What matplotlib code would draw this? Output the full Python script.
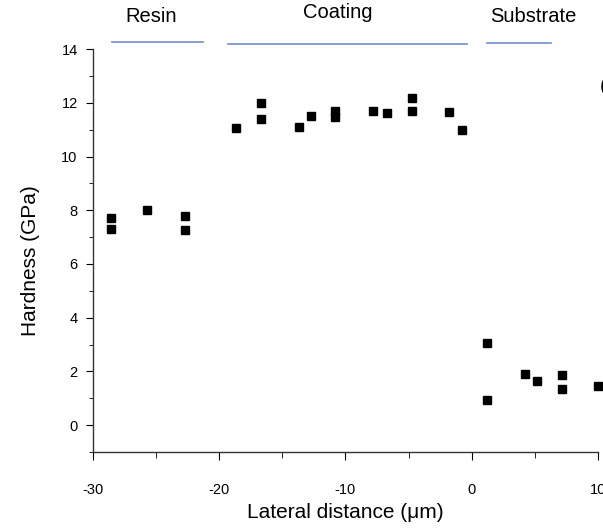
import matplotlib.pyplot as plt
from matplotlib.ticker import MultipleLocator

plt.rcParams['font.family'] = ['Liberation Sans', 'DejaVu Sans']
plt.rcParams['axes.unicode_minus'] = False

resin_x = [-28.6, -28.6, -25.7, -22.7, -22.7]
resin_h = [7.73, 7.29, 8.02, 7.77, 7.25]

coating_x = [-18.7, -16.7, -16.7, -13.7, -12.7, -10.8, -10.8,
             -7.8, -6.75, -4.76, -4.76, -1.8, -0.8]
coating_h = [11.08, 12.0, 11.41, 11.11, 11.5, 11.68, 11.46,
             11.7, 11.62, 12.18, 11.71, 11.64, 11.0]

substrate_x = [1.17, 1.17, 4.18, 5.2, 7.17, 7.17, 10.0]
substrate_h = [3.07, 0.95, 1.92, 1.63, 1.85, 1.36, 1.45]

regions = ['Resin', 'Coating', 'Substrate']

fig = plt.figure(figsize=(6.03, 5.28), dpi=100)
ax = fig.add_axes([0.1542, 0.144, 0.8375, 0.763])

for xs, hs in [(resin_x, resin_h), (coating_x, coating_h), (substrate_x, substrate_h)]:
    ax.plot(xs, hs, 's', color='black', markersize=6, clip_on=False)

ax.set_xlim(-30, 10)
ax.set_ylim(-1, 14)
ax.spines['top'].set_visible(False)
ax.spines['right'].set_visible(False)
for s in ['left', 'bottom']:
    ax.spines[s].set_color('#333333')
    ax.spines[s].set_linewidth(1.0)

ax.xaxis.set_major_locator(MultipleLocator(10))
ax.xaxis.set_minor_locator(MultipleLocator(5))
ax.yaxis.set_major_locator(MultipleLocator(2))
ax.yaxis.set_minor_locator(MultipleLocator(1))
ax.set_yticks([0, 2, 4, 6, 8, 10, 12, 14])
ax.tick_params(axis='x', which='major', length=6, pad=16, labelsize=10.5)
ax.tick_params(axis='x', which='minor', length=4)
ax.tick_params(axis='y', which='major', length=5, pad=6, labelsize=10.5)
ax.tick_params(axis='y', which='minor', length=3)

ax.set_xlabel('Lateral distance (\u03bcm)', fontsize=15, labelpad=5)
ax.set_ylabel('Hardness (GPa)', fontsize=15)
ax.yaxis.set_label_coords(-0.105, 0.476)

# region headers with blue bars
line_c = '#6f8fc9'
fig.text(151 / 603, 1 - 17 / 528, regions[0], ha='center', va='center', fontsize=14.5)
fig.text(338 / 603, 1 - 12 / 528, regions[1], ha='center', va='center', fontsize=14.5)
fig.text(533 / 603, 1 - 16 / 528, regions[2], ha='center', va='center', fontsize=14.5)
fig.add_artist(plt.Line2D([112 / 603, 203 / 603], [1 - 42 / 528] * 2, color=line_c, lw=1.2))
fig.add_artist(plt.Line2D([228 / 603, 467 / 603], [1 - 44 / 528] * 2, color=line_c, lw=1.2))
fig.add_artist(plt.Line2D([487 / 603, 551 / 603], [1 - 43 / 528] * 2, color=line_c, lw=1.2))

# edge of a panel label cut off by the frame
fig.text(600 / 603, 1 - 87 / 528, '(', ha='left', va='center', fontsize=15)

fig.savefig('out.png', dpi=100)
